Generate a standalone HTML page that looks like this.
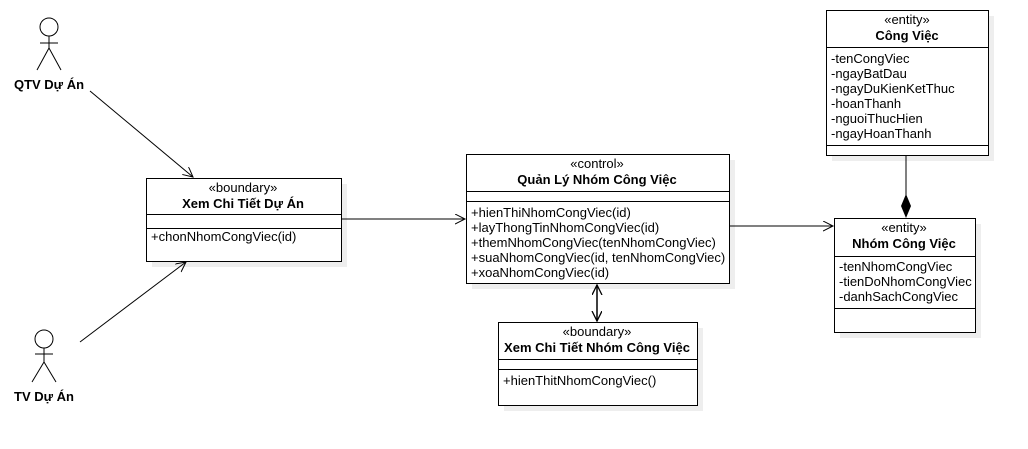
<!DOCTYPE html>
<html><head><meta charset="utf-8"><style>body{margin:0;background:#fff}svg{display:block}text{font-family:"Liberation Sans",sans-serif;font-size:13px;fill:#000}.b{font-weight:bold}</style></head><body>
<svg width="1028" height="449" xmlns="http://www.w3.org/2000/svg">
<defs><marker id="a" markerWidth="12" markerHeight="12" refX="10" refY="5" orient="auto" markerUnits="userSpaceOnUse"><path d="M0,0 L10,5 L0,10" fill="none" stroke="#000" stroke-width="1"/></marker>
<marker id="as" markerWidth="12" markerHeight="12" refX="10" refY="5" orient="auto-start-reverse" markerUnits="userSpaceOnUse"><path d="M0,0 L10,5 L0,10" fill="none" stroke="#000" stroke-width="1.3"/></marker></defs>
<g fill="#eee" stroke="none">
<rect x="152" y="184" width="195" height="83"/><rect x="472" y="160" width="263" height="129"/><rect x="504" y="328" width="199" height="83"/><rect x="832" y="16" width="162" height="145"/><rect x="840" y="224" width="141" height="114"/></g>
<g fill="#fff" stroke="#000" stroke-width="1">
<rect x="146.5" y="178.5" width="195" height="83"/><rect x="466.5" y="154.5" width="263" height="129"/><rect x="498.5" y="322.5" width="199" height="83"/><rect x="826.5" y="10.5" width="162" height="145"/><rect x="834.5" y="218.5" width="141" height="114"/>
<path d="M146,214.5H341M146,228.5H341M466,191.5H729M466,201.5H729M498,359.5H697M498,369.5H697M826,47.5H988M826,145.5H988M834,256.5H975M834,308.5H975"/></g>
<g stroke="#000" fill="none" stroke-width="1">
<circle cx="49" cy="27" r="9"/><path d="M49,36V48M40,43H58M49,48L37,70M49,48L61,70"/>
<circle cx="44" cy="339" r="9"/><path d="M44,348V362M35,354H53M44,362L32,382M44,362L56,382"/>
<path d="M90,91L193,177" marker-end="url(#a)"/><path d="M80,342L186,262" marker-end="url(#a)"/>
<path d="M341,219H465" marker-end="url(#a)"/><path d="M729,226H833" marker-end="url(#a)"/>
<path d="M597,285V321" stroke-width="1.5" marker-start="url(#as)" marker-end="url(#as)"/>
<path d="M906,155V195"/></g>
<path d="M906,194L911,206L906,218L901,206Z" fill="#000"/>
<text class="b" x="49" y="89" text-anchor="middle">QTV Dự Án</text>
<text class="b" x="44" y="401" text-anchor="middle">TV Dự Án</text>
<g text-anchor="middle"><text x="243" y="192">«boundary»</text><text class="b" x="243" y="208">Xem Chi Tiết Dự Án</text>
<text x="597" y="168">«control»</text><text class="b" x="597" y="184">Quản Lý Nhóm Công Việc</text>
<text x="597" y="336">«boundary»</text><text class="b" x="597" y="352">Xem Chi Tiết Nhóm Công Việc</text>
<text x="907" y="24">«entity»</text><text class="b" x="907" y="40">Công Việc</text>
<text x="904" y="232">«entity»</text><text class="b" x="904" y="248">Nhóm Công Việc</text></g>
<text x="151" y="241">+chonNhomCongViec(id)</text>
<text x="471" y="217">+hienThiNhomCongViec(id)</text><text x="471" y="232">+layThongTinNhomCongViec(id)</text><text x="471" y="247">+themNhomCongViec(tenNhomCongViec)</text><text x="471" y="262">+suaNhomCongViec(id, tenNhomCongViec)</text><text x="471" y="277">+xoaNhomCongViec(id)</text>
<text x="503" y="385">+hienThitNhomCongViec()</text>
<text x="831" y="63">-tenCongViec</text><text x="831" y="78">-ngayBatDau</text><text x="831" y="93">-ngayDuKienKetThuc</text><text x="831" y="108">-hoanThanh</text><text x="831" y="123">-nguoiThucHien</text><text x="831" y="138">-ngayHoanThanh</text>
<text x="839" y="271">-tenNhomCongViec</text><text x="839" y="286">-tienDoNhomCongViec</text><text x="839" y="301">-danhSachCongViec</text>
</svg></body></html>
